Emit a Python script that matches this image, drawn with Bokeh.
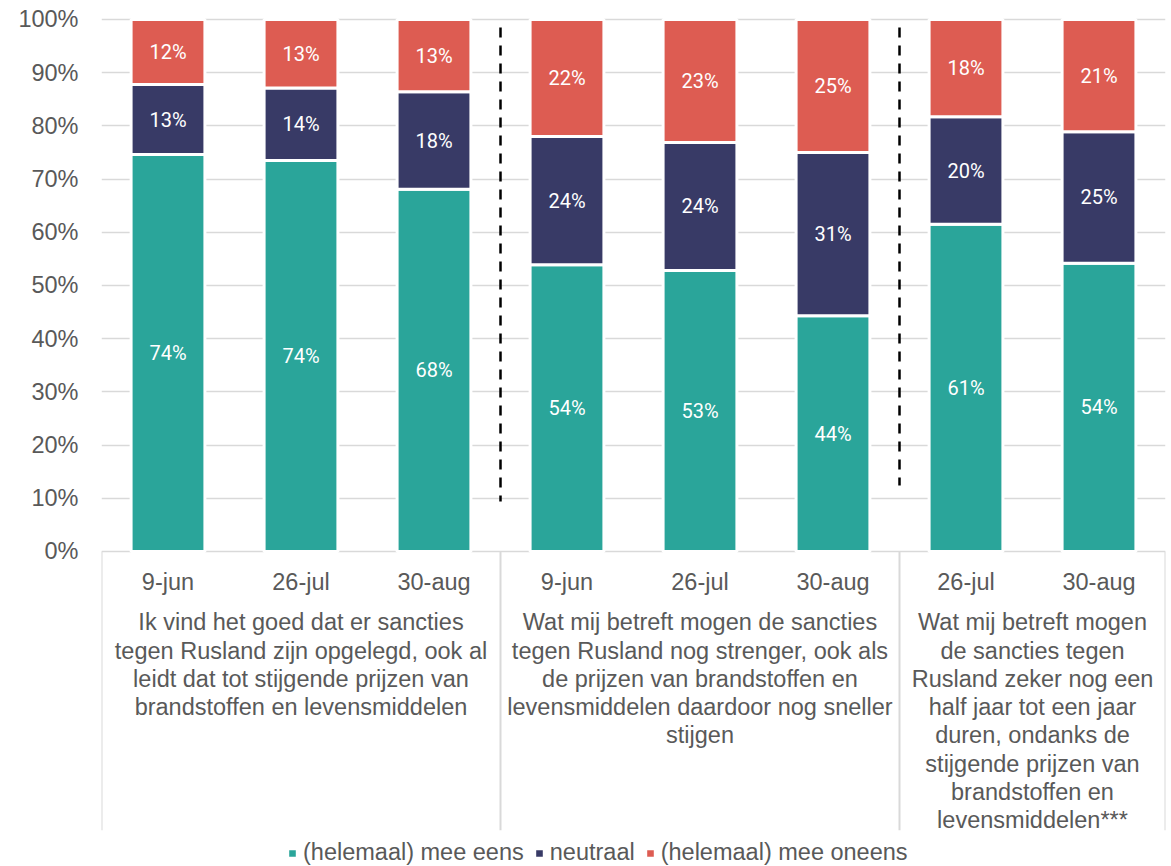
from bokeh.plotting import figure
from bokeh.models import (Range1d, FixedTicker, PrintfTickFormatter, ColumnDataSource,
                          Legend, LegendItem)
from bokeh.core.properties import value
from bokeh.embed import file_html
from bokeh.resources import INLINE

# ---------------- data ----------------
dates = ["9-jun", "26-jul", "30-aug", "9-jun", "26-jul", "30-aug", "26-jul", "30-aug"]
bar_group = [0, 0, 0, 1, 1, 1, 2, 2]
groups = [
    "Ik vind het goed dat er sancties\ntegen Rusland zijn opgelegd, ook al\nleidt dat tot stijgende prijzen van\nbrandstoffen en levensmiddelen",
    "Wat mij betreft mogen de sancties\ntegen Rusland nog strenger, ook als\nde prijzen van brandstoffen en\nlevensmiddelen daardoor nog sneller\nstijgen",
    "Wat mij betreft mogen\nde sancties tegen\nRusland zeker nog een\nhalf jaar tot een jaar\nduren, ondanks de\nstijgende prijzen van\nbrandstoffen en\nlevensmiddelen***",
]
series = ["(helemaal) mee eens", "neutraal", "(helemaal) mee oneens"]
eens = [74.6, 73.5, 68.1, 53.9, 52.8, 44.3, 61.5, 54.2]
neutraal = [13.2, 13.6, 18.3, 24.1, 24.1, 30.7, 20.2, 24.7]
oneens = [12.2, 12.9, 13.6, 22.0, 23.1, 25.0, 18.3, 21.1]
eens_labels = ["74%", "74%", "68%", "54%", "53%", "44%", "61%", "54%"]
neutraal_labels = ["13%", "14%", "18%", "24%", "24%", "31%", "20%", "25%"]
oneens_labels = ["12%", "13%", "13%", "22%", "23%", "25%", "18%", "21%"]
y_ticks = [0, 10, 20, 30, 40, 50, 60, 70, 80, 90, 100]
colors = ["#2AA59A", "#383A66", "#DD5C52"]

# ---------------- layout helpers ----------------
n = len(dates)
xs = [i + 0.5 for i in range(n)]
g_start = [min(i for i in range(n) if bar_group[i] == g) for g in range(len(groups))]
g_end = [max(i for i in range(n) if bar_group[i] == g) + 1 for g in range(len(groups))]
g_center = [(a + b) / 2 for a, b in zip(g_start, g_end)]
boundaries = sorted(set(g_start + g_end))
inner_bounds = [b for b in boundaries if b not in (0, n)]

TXT = "#595959"
FONT = "Liberation Sans"
FS = "23.5px"

p = figure(width=1171, height=866, output_backend="svg", toolbar_location=None,
           x_range=Range1d(0, n), y_range=Range1d(-59.21, 101.69),
           x_axis_location=None, min_border_left=101, min_border_right=6,
           min_border_top=10, min_border_bottom=0)
p.outline_line_color = None
p.background_fill_color = "white"
p.border_fill_color = "white"

# y axis
ax = p.yaxis[0]
ax.ticker = FixedTicker(ticks=y_ticks)
ax.formatter = PrintfTickFormatter(format="%d%%")
ax.axis_line_color = None
ax.major_tick_line_color = None
ax.minor_tick_line_color = None
ax.major_label_text_font = FONT
ax.major_label_text_font_size = FS
ax.major_label_text_color = TXT
ax.major_label_standoff = 17
p.ygrid.grid_line_color = "#D9D9D9"
p.ygrid.grid_line_width = 1.5
p.xgrid.visible = False

# bars
src = ColumnDataSource(dict(x=xs, eens=eens, neutraal=neutraal, oneens=oneens))
rs = p.vbar_stack(["eens", "neutraal", "oneens"], x="x", width=0.555, color=colors,
                  line_color="white", line_width=3, source=src)

# segment labels
lx, ly, lt = [], [], []
for i in range(n):
    b = 0
    for v, labs in ((eens, eens_labels), (neutraal, neutraal_labels), (oneens, oneens_labels)):
        lx.append(xs[i]); ly.append(b + v[i] / 2); lt.append(labs[i])
        b += v[i]
p.text(x=lx, y=ly, text=lt, text_align="center", text_baseline="middle",
       text_color="white", text_font=value("Roboto"), text_font_size="20px")

# category axis separators
p.segment(x0=boundaries, y0=[0] * len(boundaries), x1=boundaries, y1=[-52.4] * len(boundaries),
          line_color="#D9D9D9", line_width=2)

# dashed group dividers
dash_top = [98.5, 98.5]
dash_bottom = [9.4, 12.4]
p.segment(x0=inner_bounds, y0=dash_top, x1=inner_bounds, y1=dash_bottom,
          line_color="black", line_width=2.5, line_dash="10 8")

# date labels
p.text(x=xs, y=[-5.65] * n, text=dates, text_align="center", text_baseline="alphabetic",
       text_color=TXT, text_font=value(FONT), text_font_size=FS)

# group labels
p.text(x=g_center, y=[-10.9] * len(groups), text=groups, text_align="center",
       text_baseline="top", text_color=TXT, text_font=value(FONT), text_font_size=FS,
       text_line_height=1.086)

# legend
legend = Legend(items=[LegendItem(label=s, renderers=[r]) for s, r in zip(series, rs)],
                orientation="horizontal", location=(185, 0), padding=0, margin=0,
                glyph_width=12, glyph_height=12, label_standoff=5, spacing=9,
                border_line_color=None, background_fill_alpha=0,
                label_text_font=FONT, label_text_font_size=FS, label_text_color=TXT)
p.add_layout(legend)

open("out.html", "w").write(file_html(p, INLINE))
